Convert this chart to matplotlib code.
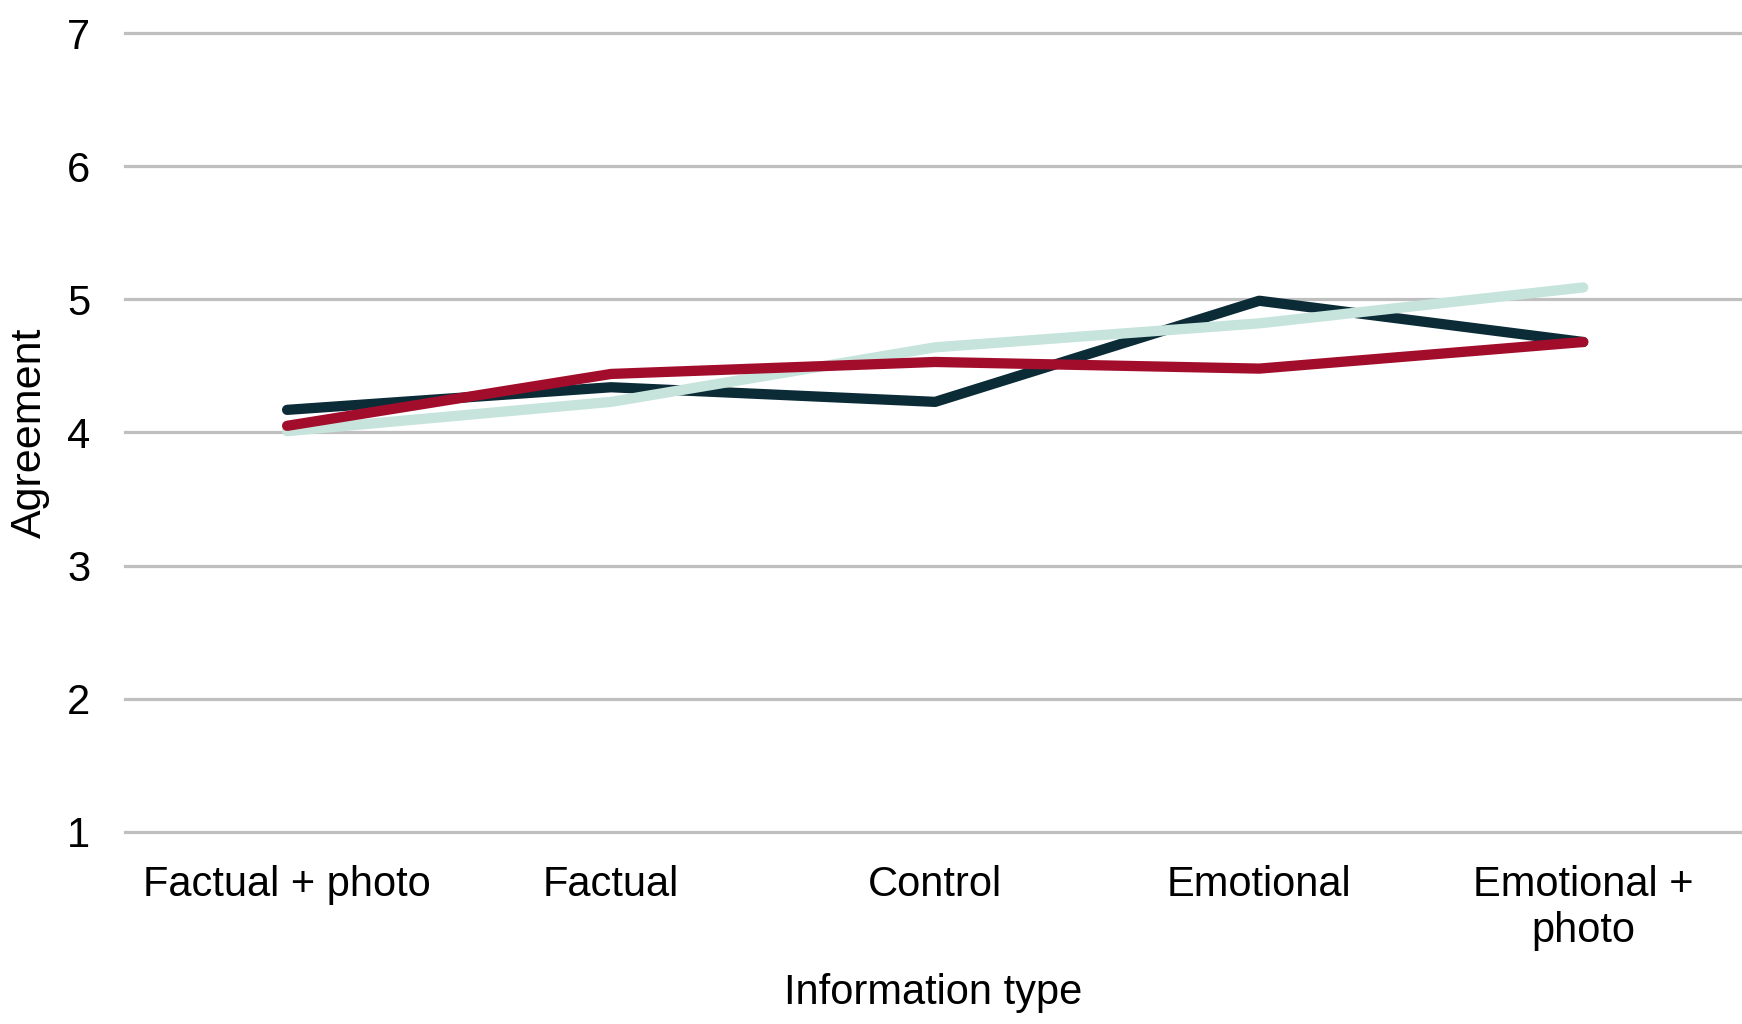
import matplotlib
matplotlib.use("Agg")
import matplotlib.pyplot as plt

categories = ["Factual + photo", "Factual", "Control", "Emotional", "Emotional +\nphoto"]
series_dark = [4.17, 4.34, 4.23, 4.99, 4.68]
series_light = [4.01, 4.23, 4.64, 4.82, 5.09]
series_red = [4.05, 4.44, 4.53, 4.48, 4.68]
y_ticks = [1, 2, 3, 4, 5, 6, 7]

plt.rcParams["font.family"] = ["Liberation Sans", "DejaVu Sans"]

fig = plt.figure(figsize=(17.42, 10.24), dpi=100)
ax = fig.add_axes([0.0718, 0.1878, 0.9282, 0.7797])

x = list(range(len(categories)))
lw = 7.4
ax.plot(x, series_dark, color="#0b2c37", lw=lw, solid_capstyle="round",
        solid_joinstyle="round", zorder=3)
ax.plot(x, series_light, color="#c6e4dc", lw=lw, solid_capstyle="round",
        solid_joinstyle="round", zorder=4)
ax.plot(x, series_red, color="#a30d2c", lw=lw, solid_capstyle="round",
        solid_joinstyle="round", zorder=5)

ax.set_xlim(-0.5, 4.49)
ax.set_ylim(1, 7)
ax.set_yticks(y_ticks)
ax.set_yticklabels([str(t) for t in y_ticks])
ax.set_xticks(x)
ax.set_xticklabels(categories, linespacing=1.2)

for t in y_ticks:
    ax.axhline(t, color="#bfbfbf", lw=2.3, zorder=1, clip_on=False)

for s in ax.spines.values():
    s.set_visible(False)
ax.tick_params(axis="both", length=0, labelsize=30, colors="black")
ax.tick_params(axis="y", pad=25)
ax.tick_params(axis="x", pad=24)

ax.set_xlabel("Information type", fontsize=30, labelpad=16)
ax.set_ylabel("Agreement", fontsize=31)
ax.yaxis.set_label_coords(-0.0465, 0.5)

fig.savefig("out.png", dpi=100, facecolor="white")
